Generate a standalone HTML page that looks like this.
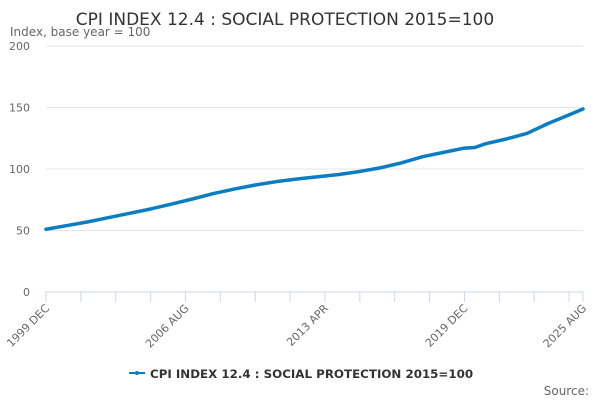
<!DOCTYPE html>
<html><head><meta charset="utf-8"><style>
body{margin:0;background:#fff;font-family:"Liberation Sans","DejaVu Sans",sans-serif}
svg text{font-family:"DejaVu Sans","Liberation Sans",sans-serif}
</style></head><body>
<svg id="chart" width="600" height="400" xmlns="http://www.w3.org/2000/svg">
<text x="285" y="25" text-anchor="middle" font-size="17" fill="#333">CPI INDEX 12.4 : SOCIAL PROTECTION 2015=100</text>
<text x="10" y="36" font-size="12" fill="#666">Index, base year = 100</text>
<g id="grid"></g><g id="xaxis"></g><g id="series"></g>
<g>
<line x1="129" y1="373" x2="145" y2="373" stroke="#0b7dc2" stroke-width="2"/>
<circle cx="137" cy="373" r="2" fill="#0b7dc2"/>
<text x="150" y="378" font-size="11.85" font-weight="bold" fill="#333">CPI INDEX 12.4 : SOCIAL PROTECTION 2015=100</text>
</g>
<text x="589" y="395" text-anchor="end" font-size="12" fill="#666">Source:</text>
</svg>
<script>
const months=[0,12,24,36,48,60,72,84,96,108,120,132,144,156,168,180,192,204,216,228,240,246,252,264,276,288,300,308];
const values=[51,54,57,60.5,64,67.5,71.5,75.6,80,83.7,87,89.7,91.9,93.7,95.5,98,101,105,110,113.5,117,117.5,120.5,124.4,129,137,144,148.8];
const yTicks=[0,50,100,150,200];
const xLabelMonths=[0,80,160,240,308];
const xLabels=["1999 DEC","2006 AUG","2013 APR","2019 DEC","2025 AUG"];
const NS="http://www.w3.org/2000/svg";
const x=m=>46+m*(537/308);
const y=v=>292-v*(246/200);
function mk(t,a,p){const e=document.createElementNS(NS,t);for(const k in a)e.setAttribute(k,a[k]);p.appendChild(e);return e;}
const grid=document.getElementById('grid');
yTicks.forEach(v=>{
 if(v>0){const l=mk('line',{x1:46,x2:583,y1:y(v),y2:y(v),stroke:'#e6e6e6'},grid);
 
 }
 const t=mk('text',{x:30,y:y(v)+4,'text-anchor':'end','font-size':11,fill:'#666'},grid);t.textContent=v;
 
 
});
const xa=document.getElementById('xaxis');
const ax=mk('line',{x1:46,x2:583,y1:292,y2:292,stroke:'#ccd6eb'},xa);


for(let m=0;m<=300;m+=20){mk('line',{x1:x(m),x2:x(m),y1:292,y2:302,stroke:'#ccd6eb'},xa);}
mk('line',{x1:x(308),x2:x(308),y1:292,y2:302,stroke:'#ccd6eb'},xa);
xLabelMonths.forEach((m,i)=>{
 const t=mk('text',{x:x(m)+4,y:309,'text-anchor':'end','font-size':11,fill:'#666',transform:`rotate(-45 ${x(m)+4} 309)`},xa);
 t.textContent=xLabels[i];
 
 
});
const s=document.getElementById('series');
const pl=mk('polyline',{points:months.map((m,i)=>x(m)+','+y(values[i])).join(' '),fill:'none',stroke:'#0b7dc2','stroke-width':3.5,'stroke-linejoin':'round','stroke-linecap':'round'},s);


</script>
</body></html>
